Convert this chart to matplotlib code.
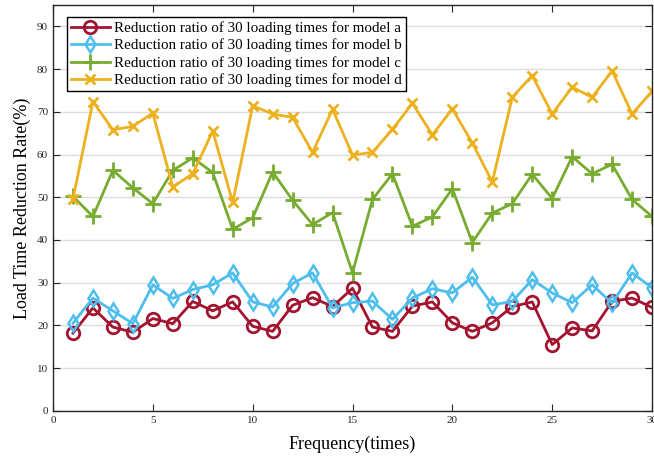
import numpy as np
import matplotlib
matplotlib.use("Agg")
import matplotlib.pyplot as plt

plt.rcParams['font.family'] = ['Liberation Serif', 'DejaVu Serif']

freq = list(range(1, 31))
model_a = [18.2, 24.1, 19.6, 18.4, 21.6, 20.4, 25.6, 23.4, 25.5, 19.8,
           18.6, 24.7, 26.5, 24.4, 28.7, 19.6, 18.6, 24.5, 25.5, 20.6,
           18.6, 20.6, 24.4, 25.5, 15.5, 19.4, 18.7, 25.6, 26.4, 24.2]
model_b = [20.5, 26.4, 23.4, 20.4, 29.5, 26.3, 28.4, 29.5, 32.3, 25.5,
           24.3, 29.8, 32.3, 24.1, 25.3, 25.7, 21.4, 26.4, 28.6, 27.6,
           31.3, 24.8, 25.6, 30.7, 27.6, 25.3, 29.5, 25.2, 32.3, 28.8]
model_c = [50.2, 45.5, 56.3, 52.2, 48.5, 56.3, 59.2, 55.8, 42.5, 45.2,
           55.9, 49.3, 43.6, 46.4, 32.3, 49.5, 55.5, 43.2, 45.4, 52.0,
           39.4, 46.3, 48.5, 55.4, 49.7, 59.5, 55.5, 57.7, 49.5, 45.5]
model_d = [49.5, 72.4, 65.8, 66.6, 69.7, 52.4, 55.5, 65.5, 48.8, 71.4,
           69.5, 68.7, 60.5, 70.6, 59.9, 60.5, 65.9, 72.0, 64.6, 70.7,
           62.7, 53.6, 73.4, 78.5, 69.5, 75.8, 73.4, 79.6, 69.5, 74.8]

labels = ['Reduction ratio of 30 loading times for model a',
          'Reduction ratio of 30 loading times for model b',
          'Reduction ratio of 30 loading times for model c',
          'Reduction ratio of 30 loading times for model d']

fig = plt.figure(figsize=(6.54, 4.59), dpi=100)
ax = fig.add_axes([0.081, 0.105, 0.916, 0.884])

ax.plot(freq, model_a, color='#A2142F', lw=2, marker='o', ms=9, mfc='none',
        mew=2, label=labels[0])
ax.plot(freq, model_b, color='#4DBEEE', lw=2, marker='d', ms=8, mfc='none',
        mew=1.8, label=labels[1])
ax.plot(freq, model_c, color='#77AC30', lw=2, marker='+', ms=11, mew=2,
        label=labels[2])
ax.plot(freq, model_d, color='#EDB120', lw=2, marker='x', ms=7, mew=2,
        label=labels[3])

ax.set_xlim(0, 30)
ax.set_ylim(0, 95)
ax.set_xticks(range(0, 31, 5))
ax.set_yticks(range(0, 91, 10))
ax.yaxis.grid(True, color='#dddddd', lw=1)
ax.set_axisbelow(True)
ax.tick_params(direction='in', top=True, right=True, labelsize=8,
               colors='#262626', length=5)
for s in ax.spines.values():
    s.set_color('#262626')
    s.set_linewidth(1)

ax.set_xlabel('Frequency(times)', fontsize=13, labelpad=8)
ax.set_ylabel('Load Time Reduction Rate(%)', fontsize=13)

leg = ax.legend(loc='upper left', bbox_to_anchor=(0.023, 0.97), fontsize=10.8,
                fancybox=False, framealpha=1, edgecolor='black',
                borderpad=0.25, labelspacing=0.25, handlelength=2.6,
                handletextpad=0.3, borderaxespad=0)
leg.get_frame().set_linewidth(1)

fig.savefig('out.png', dpi=100)
